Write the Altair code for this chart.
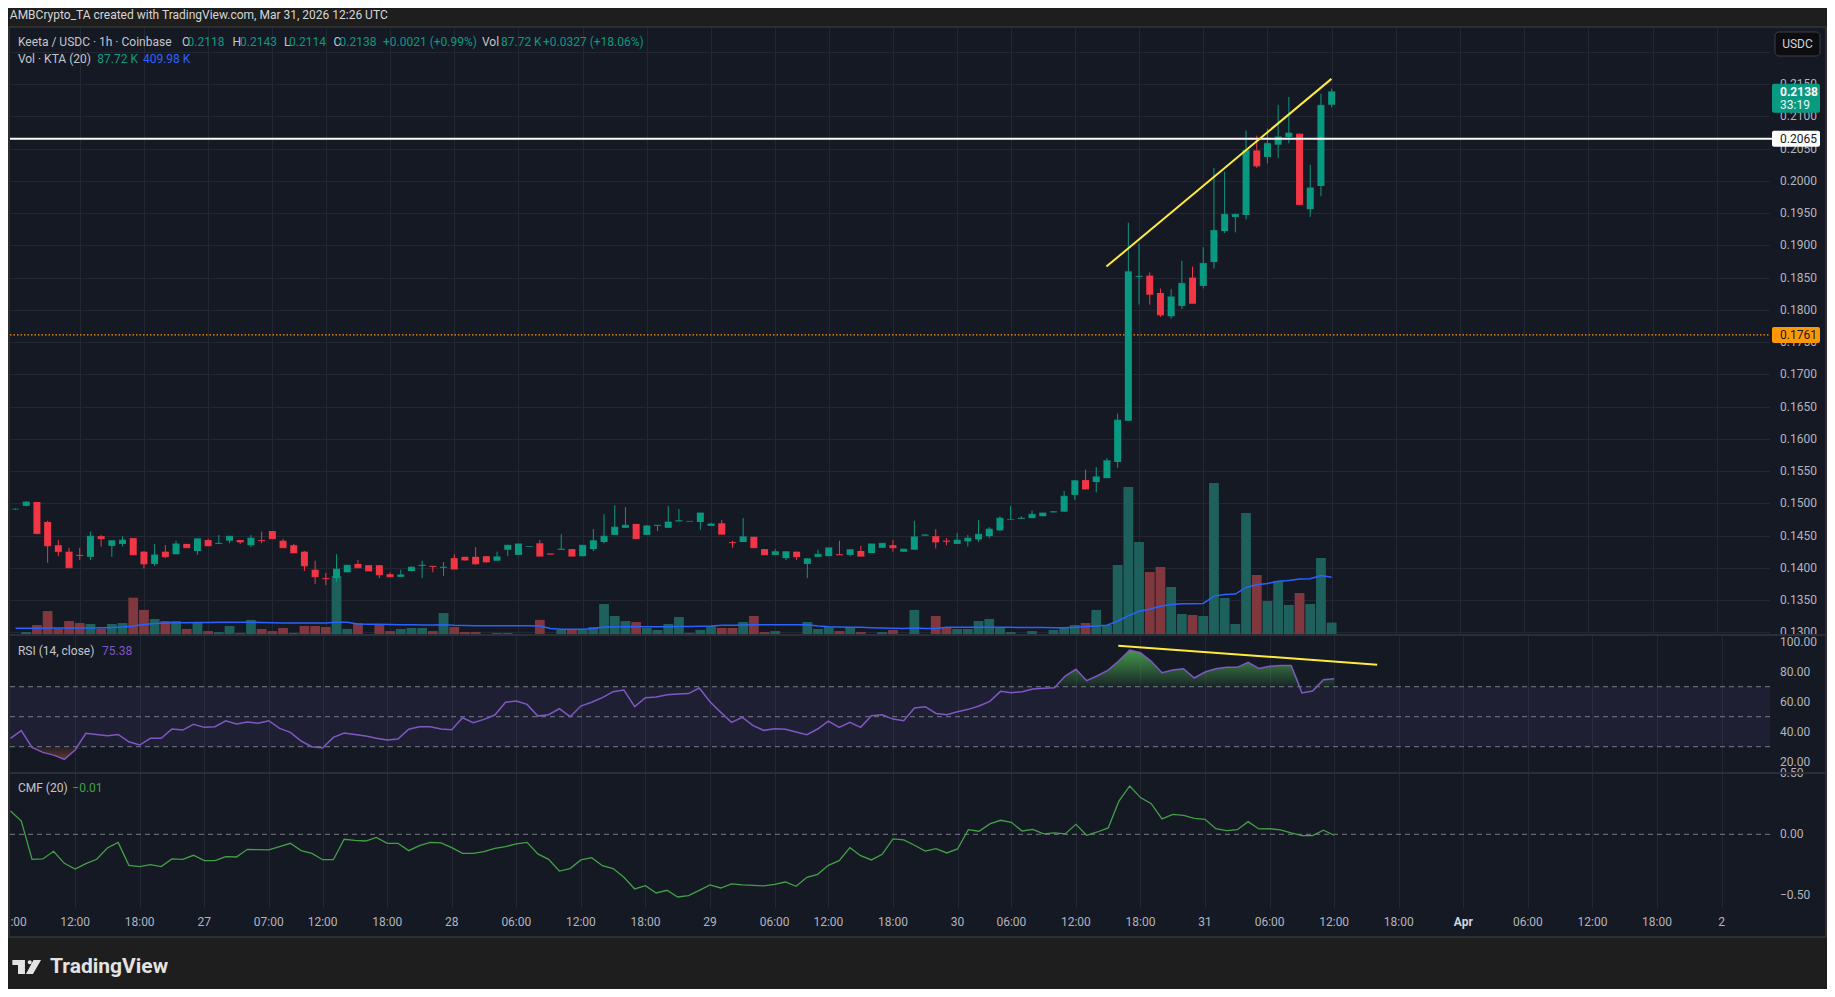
import altair as alt
import pandas as pd

# ---------------- data ----------------
OPEN = [0.1491,0.1496,0.1502,0.1471,0.1435,0.1425,0.1420,0.1417,0.1449,0.1434,
        0.1437,0.1446,0.1425,0.1406,0.1425,0.1421,0.1437,0.1426,0.1443,0.1437,
        0.1442,0.1443,0.1435,0.1443,0.1457,0.1442,0.1435,0.1425,0.1397,0.1384,
        0.1384,0.1393,0.1406,0.1404,0.1404,0.1390,0.1386,0.1395,0.1403,0.1403,
        0.1400,0.1415,0.1417,0.1417,0.1418,0.1411,0.1428,0.1420,0.1433,0.1438,
        0.1422,0.1428,0.1429,0.1418,0.1429,0.1440,0.1451,0.1462,0.1468,0.1451,
        0.1465,0.1462,0.1472,0.1472,0.1471,0.1465,0.1469,0.1440,0.1440,0.1448,
        0.1429,0.1420,0.1415,0.1425,0.1406,0.1417,0.1418,0.1421,0.1420,0.1426,
        0.1423,0.1431,0.1435,0.1425,0.1428,0.1450,0.1449,0.1442,0.1437,0.1441,
        0.1444,0.1449,0.1458,0.1475,0.1476,0.1477,0.1480,0.1486,0.1487,0.1513,
        0.1536,0.1533,0.1539,0.1564,0.1628,0.1851,0.1853,0.1826,0.1790,0.1806,
        0.1850,0.1837,0.1874,0.1922,0.1944,0.1947,0.2047,0.2037,0.2056,0.2068,
        0.2073,0.1956,0.1992,0.2118]
HIGH = [0.1492,0.1503,0.1502,0.1473,0.1443,0.1431,0.1431,0.1456,0.1451,0.1442,
        0.1449,0.1446,0.1426,0.1437,0.1435,0.1442,0.1437,0.1445,0.1445,0.1451,
        0.1449,0.1443,0.1451,0.1456,0.1457,0.1445,0.1437,0.1426,0.1411,0.1392,
        0.1421,0.1404,0.1412,0.1404,0.1404,0.1393,0.1397,0.1402,0.1411,0.1403,
        0.1409,0.1421,0.1417,0.1432,0.1418,0.1425,0.1435,0.1437,0.1433,0.1443,
        0.1422,0.1452,0.1429,0.1435,0.1460,0.1483,0.1497,0.1494,0.1468,0.1466,
        0.1466,0.1496,0.1491,0.1472,0.1485,0.1470,0.1474,0.1442,0.1477,0.1448,
        0.1429,0.1429,0.1425,0.1425,0.1415,0.1428,0.1431,0.1442,0.1429,0.1434,
        0.1437,0.1438,0.1443,0.1429,0.1473,0.1452,0.1460,0.1446,0.1454,0.1451,
        0.1474,0.1463,0.1480,0.1496,0.1480,0.1489,0.1485,0.1488,0.1519,0.1536,
        0.1552,0.1556,0.1570,0.1639,0.1935,0.1903,0.1858,0.1833,0.1832,0.1876,
        0.1867,0.1897,0.2020,0.2014,0.1949,0.2078,0.2070,0.2081,0.2118,0.2130,
        0.2073,0.2025,0.2135,0.2143]
LOW = [0.1490,0.1495,0.1452,0.1408,0.1418,0.1400,0.1412,0.1412,0.1433,0.1417,
       0.1433,0.1420,0.1399,0.1403,0.1415,0.1421,0.1431,0.1420,0.1434,0.1437,
       0.1438,0.1437,0.1432,0.1438,0.1445,0.1431,0.1423,0.1395,0.1375,0.1373,
       0.1378,0.1393,0.1400,0.1395,0.1384,0.1386,0.1386,0.1395,0.1384,0.1393,
       0.1387,0.1398,0.1411,0.1405,0.1408,0.1411,0.1418,0.1420,0.1433,0.1418,
       0.1421,0.1428,0.1418,0.1418,0.1426,0.1438,0.1451,0.1462,0.1445,0.1451,
       0.1457,0.1462,0.1472,0.1472,0.1459,0.1465,0.1452,0.1431,0.1440,0.1431,
       0.1420,0.1420,0.1412,0.1412,0.1384,0.1417,0.1418,0.1420,0.1418,0.1418,
       0.1423,0.1431,0.1425,0.1425,0.1428,0.1450,0.1430,0.1435,0.1437,0.1433,
       0.1440,0.1446,0.1458,0.1475,0.1476,0.1477,0.1480,0.1486,0.1487,0.1505,
       0.1522,0.1517,0.1539,0.1555,0.1628,0.1808,0.1808,0.1789,0.1786,0.1801,
       0.1810,0.1833,0.1864,0.1919,0.1920,0.1940,0.2020,0.2027,0.2035,0.2058,
       0.1962,0.1944,0.1976,0.2114]
CLOSE = [0.1491,0.1502,0.1453,0.1434,0.1425,0.1400,0.1419,0.1449,0.1445,0.1442,
         0.1443,0.1420,0.1406,0.1420,0.1417,0.1437,0.1431,0.1445,0.1434,0.1438,
         0.1449,0.1440,0.1446,0.1442,0.1445,0.1431,0.1423,0.1403,0.1386,0.1383,
         0.1398,0.1404,0.1400,0.1395,0.1389,0.1386,0.1389,0.1401,0.1404,0.1402,
         0.1401,0.1398,0.1412,0.1406,0.1409,0.1417,0.1435,0.1437,0.1433,0.1418,
         0.1421,0.1429,0.1418,0.1435,0.1442,0.1449,0.1463,0.1466,0.1445,0.1465,
         0.1466,0.1471,0.1473,0.1472,0.1485,0.1468,0.1452,0.1439,0.1448,0.1431,
         0.1420,0.1425,0.1425,0.1417,0.1414,0.1421,0.1431,0.1420,0.1428,0.1418,
         0.1437,0.1438,0.1431,0.1429,0.1448,0.1451,0.1440,0.1441,0.1443,0.1446,
         0.1452,0.1460,0.1477,0.1475,0.1477,0.1483,0.1485,0.1487,0.1511,0.1535,
         0.1522,0.1541,0.1566,0.1629,0.1859,0.1852,0.1824,0.1792,0.1820,0.1841,
         0.1810,0.1872,0.1923,0.1948,0.1948,0.2047,0.2023,0.2058,0.2068,0.2074,
         0.1963,0.1989,0.2117,0.2138]
VOLUME_K = [7,21,71,170,45,99,85,78,45,78,
            85,265,178,114,99,99,43,92,28,21,
            64,14,107,43,28,50,14,64,64,57,
            419,43,85,7,71,28,43,50,50,28,
            156,57,21,21,7,14,14,7,7,107,
            7,36,36,36,57,220,135,99,92,50,
            36,78,128,14,36,64,50,50,92,135,
            21,28,7,7,92,43,57,28,57,21,
            7,21,36,7,178,7,135,57,43,43,
            99,114,57,21,7,28,7,36,57,71,
            85,178,71,497,1051,660,447,483,341,149,
            142,135,1079,263,78,866,426,241,383,213,
            298,220,547,88]
VOL_MA_K = [48,48,48,50,50,50,50,50,51,53,
            57,64,75,82,85,87,87,89,89,90,
            90,90,90,89,87,85,85,85,85,85,
            90,90,78,76,76,75,73,73,71,71,
            73,69,67,66,66,66,66,66,66,64,
            46,40,40,40,46,57,57,59,59,59,
            59,59,60,60,62,64,69,69,71,73,
            73,73,73,73,73,64,59,57,55,55,
            52,50,48,46,50,46,46,55,55,55,
            55,55,55,55,53,53,53,52,52,55,
            60,64,69,98,137,168,183,204,217,222,
            222,224,276,287,291,338,356,366,382,387,
            398,400,423,410]
RSI = [35.6,40.7,29.6,26.2,24.4,21.6,27.8,38.9,38.2,37.3,
       38.2,33.3,31.1,35.6,35.6,41.8,41.1,44.9,42.9,43.3,
       47.3,45.1,46.4,45.6,47.3,42.2,39.6,33.8,30.0,29.1,
       36.2,39.1,38.2,37.1,35.6,34.4,35.1,41.6,43.3,43.3,
       41.8,41.3,49.3,46.0,48.2,51.1,59.6,60.4,58.2,50.4,
       51.3,55.3,50.0,57.1,59.6,62.7,66.7,67.8,56.7,62.7,
       63.1,64.7,65.1,65.4,69.1,60.0,52.9,46.2,49.6,44.0,
       40.9,42.0,41.6,39.8,38.0,41.8,47.1,42.9,46.2,42.9,
       50.7,51.3,48.4,47.3,55.8,56.7,52.2,51.3,53.3,54.9,
       57.1,60.2,66.9,66.0,66.7,68.4,68.9,69.3,77.1,81.6,
       74.0,77.3,81.1,87.3,94.4,92.7,86.9,79.3,81.1,82.0,
       75.8,79.8,82.0,82.9,82.9,86.2,82.2,83.6,84.2,84.2,
       65.8,67.1,74.7,75.38]
CMF = [0.191,0.109,-0.205,-0.202,-0.139,-0.238,-0.284,-0.240,-0.205,-0.112,
       -0.066,-0.254,-0.265,-0.249,-0.265,-0.202,-0.205,-0.172,-0.216,-0.216,
       -0.183,-0.186,-0.123,-0.126,-0.128,-0.101,-0.074,-0.134,-0.156,-0.208,
       -0.208,-0.041,-0.049,-0.055,-0.025,-0.074,-0.074,-0.134,-0.093,-0.066,
       -0.071,-0.109,-0.156,-0.156,-0.142,-0.115,-0.101,-0.079,-0.066,-0.161,
       -0.205,-0.301,-0.281,-0.210,-0.191,-0.257,-0.281,-0.352,-0.448,-0.421,
       -0.481,-0.459,-0.514,-0.502,-0.459,-0.415,-0.440,-0.407,-0.415,-0.418,
       -0.423,-0.410,-0.391,-0.426,-0.352,-0.328,-0.254,-0.216,-0.109,-0.175,
       -0.210,-0.164,-0.038,-0.046,-0.090,-0.137,-0.117,-0.153,-0.120,0.038,
       0.025,0.085,0.115,0.098,0.027,0.041,0.003,0.011,0.003,0.082,
       -0.008,0.019,0.052,0.273,0.396,0.301,0.251,0.126,0.164,0.156,
       0.131,0.123,0.046,0.030,0.038,0.104,0.044,0.046,0.036,0.011,
       -0.011,-0.011,0.033,-0.008]

GRID_TICKS = [6,12,18,24,29,35,41,47,53,59,65,71,76,82,88,93,99,105,111,117,123,
              129,135,141,147,153,159]
TIME_POS = [0.75] + GRID_TICKS
TIME_LABELS = [":00","12:00","18:00","27","07:00","12:00","18:00","28","06:00","12:00",
               "18:00","29","06:00","12:00","18:00","30","06:00","12:00","18:00","31",
               "06:00","12:00","18:00","Apr","06:00","12:00","18:00","2"]
PRICE_GRID = [0.130,0.135,0.140,0.145,0.150,0.155,0.160,0.165,0.170,0.175,
              0.180,0.185,0.190,0.195,0.200,0.205,0.210,0.215,0.220]
PRICE_TICKS = [0.130,0.135,0.140,0.145,0.150,0.155,0.160,0.165,0.170,0.175,
               0.180,0.185,0.190,0.195,0.200,0.205,0.210,0.215]
PRICE_LABELS = ["0.1300","0.1350","0.1400","0.1450","0.1500","0.1550","0.1600","0.1650",
                "0.1700","0.1750","0.1800","0.1850","0.1900","0.1950","0.2000","0.2050",
                "0.2100","0.2150"]
RSI_TICKS = [100, 80, 60, 40, 20]
RSI_LABELS = ["100.00", "80.00", "60.00", "40.00", "20.00"]
RSI_LEVELS = [70, 50, 30]
CMF_TICKS = [0.5, 0.0, -0.5]
CMF_LABELS = ["0.50", "0.00", "\u22120.50"]
LAST_PRICE = 0.2138
WHITE_LEVEL = 0.2065
DOTTED_LEVEL = 0.1761
TREND_X = [101.95, 122.98]
TREND_Y = [0.1867, 0.2158]
RSI_TREND_X = [102.94, 127.0]
RSI_TREND_Y = [97.3, 84.7]

# ---------------- styling ----------------
W, H1, H2, H3, AX = 1760, 607, 138, 135, 55
FONT = "Roboto"
OUTER = "#1e1e1e"
PANEL = "#151924"
GRID = "#232733"
SEP = "#2a2e39"
FRAME = "#2e2e2e"
AXT = "#b2b5be"
LEG = "#c3c6ce"
GREEN = "#089981"
RED = "#f23645"
VGREEN = "#1e605c"
VRED = "#80383e"
BLUE = "#2962ff"
PURPLE = "#7e57c2"
CMFG = "#43a047"
YELLOW = "#ffeb3b"
ORANGE = "#ff9800"

df = pd.DataFrame({"i": list(range(len(OPEN))), "o": OPEN, "h": HIGH, "l": LOW, "c": CLOSE,
                   "vol": VOLUME_K, "ma": VOL_MA_K, "rsi": RSI, "cmf": CMF})
df["up"] = df["c"] >= df["o"]
ONE = pd.DataFrame({"k": [0]})

xscale = alt.Scale(domain=[-0.05, 163.5], nice=False, zero=False)
xaxis = alt.Axis(values=GRID_TICKS, grid=True, gridColor=GRID, gridWidth=1, labels=False,
                 ticks=False, domain=False, title=None)
pscale = alt.Scale(domain=[0.12958, 0.22369], nice=False, zero=False)
paxis = alt.Axis(values=PRICE_GRID, grid=True, gridColor=GRID, labels=False, ticks=False,
                 domain=False, title=None, orient="right")
vscale = alt.Scale(domain=[0, 4310], nice=False, zero=False)
rscale = alt.Scale(domain=[12.47, 104.47], nice=False, zero=False)
raxis = alt.Axis(values=RSI_TICKS, grid=True, gridColor=GRID, labels=False, ticks=False,
                 domain=False, title=None, orient="right")
cscale = alt.Scale(domain=[-0.604, 0.5025], nice=False, zero=False)
caxis = alt.Axis(values=CMF_TICKS, grid=True, gridColor=GRID, labels=False, ticks=False,
                 domain=False, title=None, orient="right")


def X(f):
    return alt.X(f"{f}:Q", scale=xscale, axis=xaxis)


def YP(f, ax=False):
    return alt.Y(f"{f}:Q", scale=pscale, axis=paxis if ax else None)


def YV(f):
    return alt.Y(f"{f}:Q", scale=vscale, axis=None)


def YR(f, ax=False):
    return alt.Y(f"{f}:Q", scale=rscale, axis=raxis if ax else None)


def YC(f, ax=False):
    return alt.Y(f"{f}:Q", scale=cscale, axis=caxis if ax else None)


def vbox(x1, x2, y1, y2, **kw):
    return alt.Chart(ONE).mark_rect(**kw).encode(
        x=alt.value(x1), x2=alt.value(x2), y=alt.value(y1), y2=alt.value(y2))


def vtext(s, x, y, color, size=12, weight="normal", align="left", font=FONT):
    return alt.Chart(ONE).mark_text(text=s, align=align, baseline="middle", fontSize=size,
                                    fontWeight=weight, font=font, color=color).encode(
        x=alt.value(x), y=alt.value(y))


def vrule(x1, x2, y, color, width):
    return alt.Chart(ONE).mark_rule(color=color, strokeWidth=width).encode(
        x=alt.value(x1), x2=alt.value(x2), y=alt.value(y))


up_col = alt.condition(alt.datum.up, alt.value(GREEN), alt.value(RED))
vol_col = alt.condition(alt.datum.up, alt.value(VGREEN), alt.value(VRED))
base = alt.Chart(df)


def badge(level, fill, tcolor, top=-8, bottom=8, weight="normal"):
    d = alt.Chart(pd.DataFrame({"v": [level]}))
    r = d.mark_rect(color=fill, yOffset=top, y2Offset=bottom, cornerRadius=2).encode(
        x=alt.value(W + 2), x2=alt.value(W + 50), y=YP("v"), y2="v:Q")
    t = d.mark_text(align="left", baseline="middle", font=FONT, fontSize=12,
                    fontWeight=weight, color=tcolor).encode(
        x=alt.value(W + 10), y=YP("v"), text=alt.Text("v:Q", format=".4f"))
    return [r, t]


# ---------------- price pane ----------------
price_layers = [
    vbox(-2, W + 57, -20, H1 + H2 + H3 + 81, fill=OUTER, fillOpacity=0),
    vbox(W, W + AX, 0, H1, color=PANEL),
    base.mark_bar(size=9.8, clip=True).encode(x=X("i"), y=YV("vol"), color=vol_col),
    base.mark_line(color=BLUE, strokeWidth=1.5, clip=True).encode(x=X("i"), y=YV("ma")),
    alt.Chart(pd.DataFrame({"v": [DOTTED_LEVEL]})).mark_rule(
        color=ORANGE, strokeWidth=1.2, strokeDash=[1.5, 2]).encode(
        x=alt.value(0), x2=alt.value(W), y=YP("v")),
    base.mark_rule(strokeWidth=1, clip=True).encode(x=X("i"), y=YP("l", True), y2="h:Q",
                                                   color=up_col),
    base.mark_bar(size=7, clip=True).encode(x=X("i"), y=YP("o"), y2="c:Q", color=up_col),
    base.mark_tick(orient="horizontal", size=7, thickness=1, clip=True).encode(
        x=X("i"), y=YP("c"), color=up_col),
    alt.Chart(pd.DataFrame({"v": [WHITE_LEVEL]})).mark_rule(color="#ffffff", strokeWidth=2).encode(
        x=alt.value(0), x2=alt.value(W + 2), y=YP("v")),
    alt.Chart(pd.DataFrame({"x": TREND_X, "y": TREND_Y})).mark_line(
        color=YELLOW, strokeWidth=2).encode(x=X("x"), y=YP("y")),
    # header + legend
    vtext("AMBCrypto_TA created with TradingView.com, Mar 31, 2026 12:26 UTC", -0.2, -13,
          "#d6d6d6", size=12),
    vtext("Keeta / USDC \u00b7 1h \u00b7 Coinbase", 7.9, 14, LEG),
    vtext("O", 172, 14, LEG), vtext("0.2118", 177.5, 14, GREEN),
    vtext("H", 222.6, 14, LEG), vtext("0.2143", 230, 14, GREEN),
    vtext("L", 274, 14, LEG), vtext("0.2114", 279, 14, GREEN),
    vtext("C", 323.5, 14, LEG), vtext("0.2138", 329.5, 14, GREEN),
    vtext("+0.0021 (+0.99%)", 373, 14, GREEN),
    vtext("Vol", 472, 14, LEG), vtext("87.72 K", 491, 14, GREEN),
    vtext("+0.0327 (+18.06%)", 533, 14, GREEN),
    vtext("Vol \u00b7 KTA (20)", 7.9, 31, LEG), vtext("87.72 K", 87.3, 31, GREEN),
    vtext("409.98 K", 132.9, 31, BLUE),
    # right price scale
    alt.Chart(pd.DataFrame({"v": PRICE_TICKS, "t": PRICE_LABELS})).mark_text(
        align="left", baseline="middle", font=FONT, fontSize=12, color=AXT).encode(
        x=alt.value(W + 10), y=YP("v"), text="t:N"),
]
price_layers += badge(DOTTED_LEVEL, ORANGE, "#131722")
price_layers += badge(WHITE_LEVEL, "#ffffff", "#131722")
price_layers += badge(LAST_PRICE, GREEN, "#ffffff", top=-8, bottom=21, weight="bold")
price_layers += [
    alt.Chart(pd.DataFrame({"v": [LAST_PRICE]})).mark_text(
        text="33:19", align="left", baseline="middle", font=FONT, fontSize=12,
        color="#e8f5f1", dy=13.5).encode(x=alt.value(W + 10), y=YP("v")),
    vbox(W + 5, W + 50, 4, 28, fill="#0d0d0f", stroke="#3c3f47", strokeWidth=1, cornerRadius=4),
    vtext("USDC", W + 27.5, 16, "#d1d4dc", align="center"),
]
price = alt.layer(*price_layers).resolve_scale(y="independent").properties(width=W, height=H1)

# ---------------- RSI pane ----------------
GREEN_GRAD = alt.Gradient(gradient="linear", x1=0, x2=0, y1=0, y2=1, stops=[
    alt.GradientStop(color="rgba(76,175,80,0.85)", offset=0),
    alt.GradientStop(color="rgba(76,175,80,0.08)", offset=1)])
RED_GRAD = alt.Gradient(gradient="linear", x1=0, x2=0, y1=0, y2=1, stops=[
    alt.GradientStop(color="rgba(242,120,60,0.05)", offset=0),
    alt.GradientStop(color="rgba(242,120,60,0.35)", offset=1)])

rsi_layers = [
    vbox(W, W + AX, 0, H2, color=PANEL),
    alt.Chart(pd.DataFrame({"hi": [70], "lo": [30]})).mark_rect(color=PURPLE, opacity=0.1).encode(
        x=alt.value(0), x2=alt.value(W), y=YR("hi"), y2="lo:Q"),
    alt.Chart(pd.DataFrame({"lv": RSI_LEVELS})).mark_rule(
        color="#787b86", strokeWidth=1, strokeDash=[5, 4]).encode(
        x=alt.value(0), x2=alt.value(W), y=YR("lv")),
    base.transform_calculate(top="max(datum.rsi, 70)", l70="70").mark_area(
        color=GREEN_GRAD, clip=True).encode(x=X("i"), y=YR("top"), y2="l70:Q"),
    base.transform_calculate(bot="min(datum.rsi, 30)", l30="30").mark_area(
        color=RED_GRAD, clip=True).encode(x=X("i"), y=YR("bot"), y2="l30:Q"),
    base.mark_line(color=PURPLE, strokeWidth=1.5, clip=True).encode(x=X("i"), y=YR("rsi", True)),
    alt.Chart(pd.DataFrame({"x": RSI_TREND_X, "y": RSI_TREND_Y})).mark_line(
        color=YELLOW, strokeWidth=2).encode(x=X("x"), y=YR("y")),
    vtext("RSI (14, close)", 7.9, 15.7, LEG),
    vtext("75.38", 92, 15.7, PURPLE),
    alt.Chart(pd.DataFrame({"v": RSI_TICKS, "t": RSI_LABELS})).mark_text(
        align="left", baseline="middle", font=FONT, fontSize=12, color=AXT).encode(
        x=alt.value(W + 10), y=YR("v"), text="t:N"),
    vrule(0, W + AX, 0, SEP, 2),
]
rsi = alt.layer(*rsi_layers).properties(width=W, height=H2)

# ---------------- CMF pane ----------------
LOGO_PATH = ("M-0.99,-0.48 L-0.12,-0.48 L-0.12,0.48 L-0.6,0.48 L-0.6,-0.14 L-0.99,-0.14 Z "
             "M0.07,-0.33 A0.14,0.14 0 1,0 0.35,-0.33 A0.14,0.14 0 1,0 0.07,-0.33 Z "
             "M0.47,-0.48 L0.99,-0.48 L0.43,0.48 L-0.05,0.48 Z")
tdf = alt.Chart(pd.DataFrame({"pos": TIME_POS, "lab": TIME_LABELS}))
cmf_layers = [
    vbox(W, W + AX, 0, H3 + 28, color=PANEL),
    vbox(0, W, H3, H3 + 28, color=PANEL),
    alt.Chart(pd.DataFrame({"z": [0.0]})).mark_rule(
        color="#787b86", strokeWidth=1, strokeDash=[5, 4]).encode(
        x=alt.value(0), x2=alt.value(W), y=YC("z")),
    base.mark_line(color=CMFG, strokeWidth=1.3, clip=True).encode(x=X("i"), y=YC("cmf", True)),
    vtext("CMF (20)", 7.9, 14.7, LEG),
    vtext("\u22120.01", 62.3, 14.7, CMFG),
    alt.Chart(pd.DataFrame({"v": CMF_TICKS, "t": CMF_LABELS})).mark_text(
        align="left", baseline="middle", font=FONT, fontSize=12, color=AXT).encode(
        x=alt.value(W + 10), y=YC("v"), text="t:N"),
    tdf.transform_filter("datum.lab != 'Apr'").mark_text(
        align="center", baseline="middle", font=FONT, fontSize=12, color=AXT).encode(
        x=X("pos"), y=alt.value(H3 + 14), text="lab:N"),
    tdf.transform_filter("datum.lab == 'Apr'").mark_text(
        align="center", baseline="middle", font=FONT, fontSize=12, fontWeight="bold",
        color="#d1d4dc").encode(x=X("pos"), y=alt.value(H3 + 14), text="lab:N"),
    vrule(0, W + AX, 0, SEP, 2),
    vbox(-1, W + 56, -(H1 + H2) - 1, H3 + 29, fill=PANEL, fillOpacity=0, stroke=FRAME,
         strokeWidth=2),
    alt.Chart(ONE).mark_point(shape=LOGO_PATH, size=841, filled=True, color="#e3e3e3",
                              opacity=1, strokeWidth=0).encode(x=alt.value(16.7), y=alt.value(194)),
    vtext("TradingView", 40, 194, "#e3e3e3", size=21, weight="bold"),
]
cmf = alt.layer(*cmf_layers).properties(width=W, height=H3)

chart = alt.vconcat(price, rsi, cmf, spacing=0, bounds="flush", padding=0).configure(
    background=OUTER).configure_view(fill=PANEL, strokeWidth=0)

chart.save("out.html", embed_options={"renderer": "svg", "actions": False})
